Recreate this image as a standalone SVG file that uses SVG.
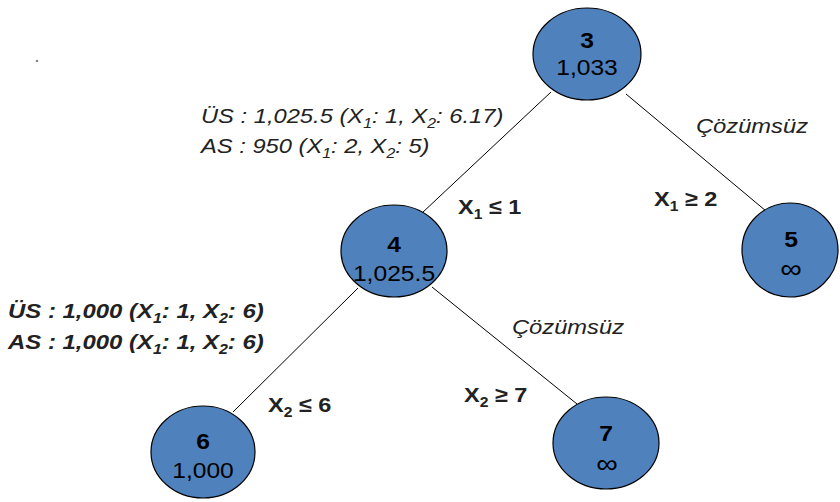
<svg xmlns="http://www.w3.org/2000/svg" width="840" height="502" viewBox="0 0 840 502">
<style>
.n{fill:#4F81BD;stroke:#000;stroke-width:1.2}
.t{font-family:"Liberation Sans",Arial,sans-serif;font-size:22px;fill:#000;text-anchor:middle}
.inf{font-size:27px}
.b{font-weight:bold}
.l{font-family:"Liberation Sans",Arial,sans-serif;font-size:21px;fill:#222}
.i{font-style:italic}
.e{stroke:#000;stroke-width:1;fill:none}
.s{font-size:14px}
</style>
<rect width="840" height="502" fill="#fff"/>
<circle cx="37" cy="61" r="1.3" fill="#888"/>
<g id="connectors">
<line class="e" x1="551" y1="92" x2="422" y2="213"/>
<line class="e" x1="626" y1="94" x2="766" y2="211"/>
<line class="e" x1="358" y1="288" x2="233" y2="412"/>
<line class="e" x1="432" y1="287" x2="577" y2="404"/>
</g>
<g id="node3">
<ellipse class="n" cx="587" cy="54" rx="54" ry="46"/>
<text class="t b" transform="translate(587,48) scale(1.12,1)">3</text>
<text class="t" transform="translate(587,75) scale(1.12,1)">1,033</text>
</g>
<g id="node4">
<ellipse class="n" cx="394" cy="251" rx="53" ry="46"/>
<text class="t b" transform="translate(394,252) scale(1.12,1)">4</text>
<text class="t" transform="translate(394,281) scale(1.12,1)">1,025.5</text>
</g>
<g id="node5">
<ellipse class="n" cx="790" cy="250" rx="48" ry="47"/>
<text class="t b" transform="translate(791,247) scale(1.12,1)">5</text>
<text class="t inf" transform="translate(791,278) scale(1.12,1)">∞</text>
</g>
<g id="node6">
<ellipse class="n" cx="203" cy="452" rx="52" ry="46"/>
<text class="t b" transform="translate(203,449) scale(1.12,1)">6</text>
<text class="t" transform="translate(203,478) scale(1.12,1)">1,000</text>
</g>
<g id="node7">
<ellipse class="n" cx="606" cy="443" rx="53" ry="46"/>
<text class="t b" transform="translate(606,441) scale(1.12,1)">7</text>
<text class="t inf" transform="translate(607,473) scale(1.12,1)">∞</text>
</g>
<g id="labels">
<text class="l i" transform="translate(201,123) scale(1.13,1)">ÜS : 1,025.5 (X<tspan class="s" dy="5">1</tspan><tspan dy="-5">: 1, X</tspan><tspan class="s" dy="5">2</tspan><tspan dy="-5">: 6.17)</tspan></text>
<text class="l i" transform="translate(201,153) scale(1.13,1)">AS : 950 (X<tspan class="s" dy="5">1</tspan><tspan dy="-5">: 2, X</tspan><tspan class="s" dy="5">2</tspan><tspan dy="-5">: 5)</tspan></text>
<text class="l i" transform="translate(696,133) scale(1.13,1)">Çözümsüz</text>
<text class="l b" transform="translate(654,206) scale(1.12,1)">X<tspan class="s" dy="5">1</tspan><tspan dy="-5"> ≥ 2</tspan></text>
<text class="l b" transform="translate(458,214) scale(1.12,1)">X<tspan class="s" dy="5">1</tspan><tspan dy="-5"> ≤ 1</tspan></text>
<text class="l b i" transform="translate(8,318) scale(1.14,1)">ÜS : 1,000 (X<tspan class="s" dy="5">1</tspan><tspan dy="-5">: 1, X</tspan><tspan class="s" dy="5">2</tspan><tspan dy="-5">: 6)</tspan></text>
<text class="l b i" transform="translate(8,349) scale(1.14,1)">AS : 1,000 (X<tspan class="s" dy="5">1</tspan><tspan dy="-5">: 1, X</tspan><tspan class="s" dy="5">2</tspan><tspan dy="-5">: 6)</tspan></text>
<text class="l i" transform="translate(512,334) scale(1.13,1)">Çözümsüz</text>
<text class="l b" transform="translate(268,412) scale(1.12,1)">X<tspan class="s" dy="5">2</tspan><tspan dy="-5"> ≤ 6</tspan></text>
<text class="l b" transform="translate(464,402) scale(1.12,1)">X<tspan class="s" dy="5">2</tspan><tspan dy="-5"> ≥ 7</tspan></text>
</g>
</svg>
